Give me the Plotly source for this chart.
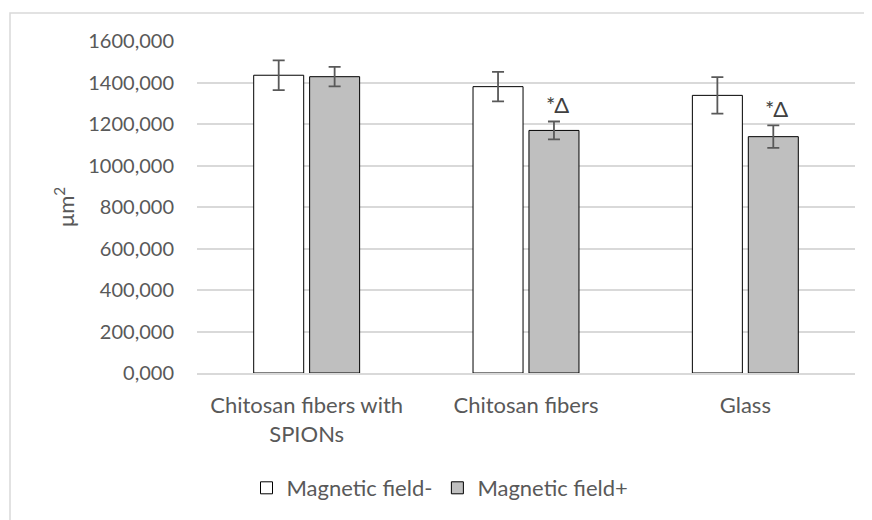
import plotly.graph_objects as go

categories = ["Chitosan fibers with<br>SPIONs", "Chitosan fibers", "Glass"]
field_minus = [1435, 1380, 1338]
field_minus_err = [72, 71, 88]
field_plus = [1428, 1169, 1139]
field_plus_err = [47, 43, 54]
significance = ["", "*Δ", "*Δ"]
tick_values = [0, 200, 400, 600, 800, 1000, 1200, 1400, 1600]
tick_labels = ["0,000", "200,000", "400,000", "600,000", "800,000",
               "1000,000", "1200,000", "1400,000", "1600,000"]

FONT = "Lato"
TXT = "#595959"

fig = go.Figure()
fig.add_trace(go.Bar(
    name="Magnetic field-", x=categories, y=field_minus,
    marker=dict(color="#ffffff", line=dict(color="#000000", width=1)),
    error_y=dict(type="data", array=field_minus_err, color="#595959", thickness=1.8, width=6),
))
fig.add_trace(go.Bar(
    name="Magnetic field+", x=categories, y=field_plus,
    marker=dict(color="#bfbfbf", line=dict(color="#000000", width=1)),
    error_y=dict(type="data", array=field_plus_err, color="#595959", thickness=1.8, width=6),
))

annotations = []
for cat, v, e, s in zip(categories, field_plus, field_plus_err, significance):
    if s:
        annotations.append(dict(
            x=cat, y=v + e, xref="x", yref="y", text=s, showarrow=False,
            xanchor="center", yanchor="middle",
            xshift=31, yshift=17, font=dict(family=FONT, size=22, color="#404040"),
        ))
annotations.append(dict(
    x=(64 - 197) / 658, y=0.5, xref="paper", yref="paper", text="μm<sup>2</sup>",
    xanchor="center", yanchor="middle",
    textangle=-90, showarrow=False, font=dict(family=FONT, size=22, color=TXT),
))

fig.update_layout(
    width=872, height=520, autosize=False,
    margin=dict(l=189, r=25, t=33, b=155),
    paper_bgcolor="#ffffff", plot_bgcolor="#ffffff",
    barmode="group", bargap=0.49, bargroupgap=0.106,
    font=dict(family=FONT, size=20, color=TXT),
    showlegend=True,
    legend=dict(orientation="h", x=(440 - 197) / 658, xanchor="center",
                y=(373 - 488) / 332, yanchor="middle",
                font=dict(family=FONT, size=22, color=TXT), itemwidth=30,
                bgcolor="rgba(0,0,0,0)"),
    annotations=annotations,
    shapes=[dict(type="rect", xref="paper", yref="paper",
                 x0=(10 - 197) / 658, x1=(900 - 197) / 658,
                 y0=(373 - 560) / 332, y1=(373 - 13) / 332,
                 line=dict(color="#d9d9d9", width=1.5), fillcolor="rgba(0,0,0,0)",
                 layer="below")],
)
fig.update_yaxes(range=[0, 1600], tickvals=tick_values, ticktext=tick_labels,
                 showgrid=True, gridcolor="#d9d9d9", gridwidth=1.5,
                 zeroline=False, showline=False, ticks="",
                 ticklabelstandoff=22, tickfont=dict(family=FONT, size=20, color=TXT))
fig.update_xaxes(showline=True, linecolor="#d9d9d9", linewidth=1.5, ticks="",
                 ticklabelstandoff=12, tickfont=dict(family=FONT, size=22, color=TXT))

fig.write_html("out.html")
